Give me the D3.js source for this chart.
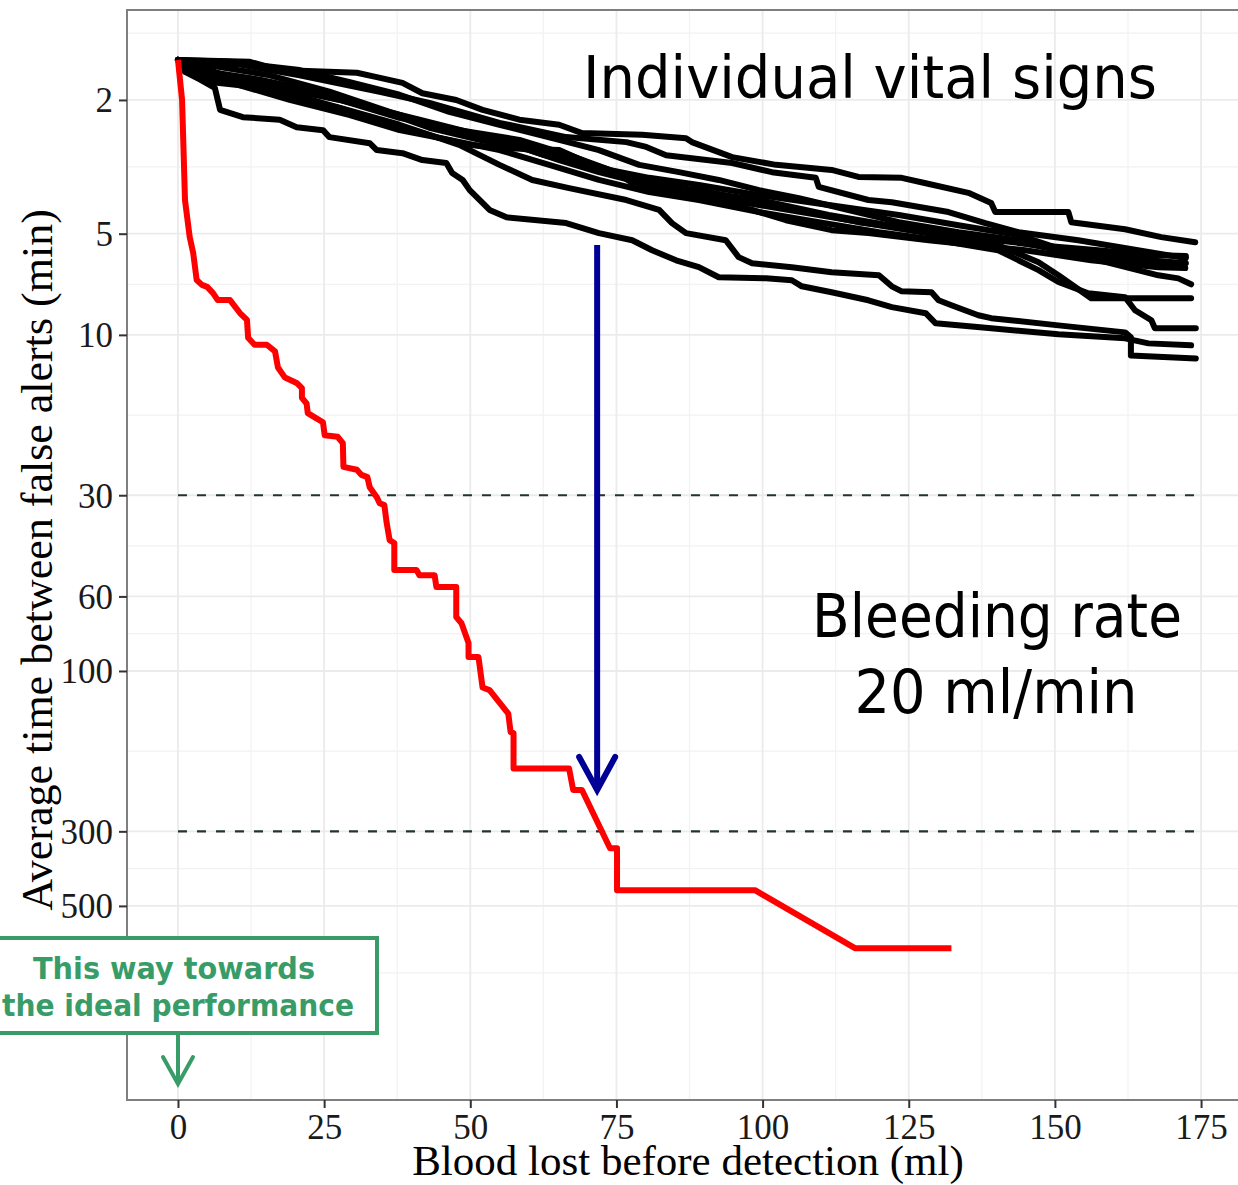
<!DOCTYPE html>
<html>
<head>
<meta charset="utf-8">
<script src="https://cdn.jsdelivr.net/npm/d3@7"></script>
<style>
  html, body { margin: 0; padding: 0; background: #fff; }
  svg { display: block; }
</style>
</head>
<body>
<svg id="chart" width="1238" height="1185"></svg>
<script>
(function () {
  'use strict'

  // axis breaks
  var xTicks = [0, 25, 50, 75, 100, 125, 150, 175]
  var yTicks = [2, 5, 10, 30, 60, 100, 300, 500]
  var thresholds = [30, 300]

  // [blood lost (ml), average time between false alerts (min)]
  var bleedingRate = [[0, 1.52], [0.7, 2.0], [1.2, 3.97], [2.0, 5.11], [2.6, 5.7], [3.2, 6.87], [4.1, 7.1],
    [5.0, 7.2], [6.0, 7.51], [6.8, 7.88], [8.9, 7.88], [10.6, 8.61], [11.8, 9.03], [12.0, 10.2], [13.1, 10.7],
    [15.2, 10.7], [16.6, 11.2], [17.1, 12.5], [18.3, 13.4], [20.3, 13.9], [21.2, 14.4], [21.2, 15.4],
    [22.0, 16.0], [22.2, 17.1], [23.4, 17.6], [24.8, 18.2], [25.1, 19.9], [27.3, 20.1], [28.2, 21.0],
    [28.3, 24.7], [30.6, 25.2], [31.4, 26.1], [32.4, 26.5], [32.8, 28.4], [34.0, 30.4], [34.5, 31.7],
    [35.3, 32.1], [35.7, 36.3], [36.2, 40.8], [37.0, 41.6], [37.0, 50.1], [40.8, 50.1], [41.3, 51.9],
    [43.9, 51.9], [44.2, 56.3], [47.6, 56.3], [47.6, 69.1], [48.5, 72.1], [49.7, 82.6], [49.7, 90.9],
    [51.4, 90.9], [52.1, 112], [53.3, 114], [56.5, 134], [56.9, 152], [57.4, 153], [57.4, 195], [66.9, 195],
    [67.6, 226], [69.1, 226], [73.9, 337], [75.1, 337], [75.1, 449], [98.7, 449], [115.8, 668], [132.3, 668]]

  var vital1 = [[0, 1.52], [12.3, 1.54], [17.4, 1.63], [30.6, 1.66], [34.0, 1.71], [38.4, 1.78], [41.8, 1.91],
    [47.6, 2.0], [52.1, 2.14], [58.4, 2.29], [65.2, 2.37], [69.1, 2.51], [79.4, 2.54], [86.9, 2.6], [87.9, 2.67],
    [94.8, 2.96], [102.3, 3.12], [111.8, 3.23], [116.4, 3.39], [123.8, 3.41], [127.9, 3.54], [135.2, 3.78],
    [139.1, 4.05], [139.8, 4.31], [152.3, 4.31], [152.8, 4.62], [162.0, 4.85], [168.2, 5.12], [174.0, 5.3]]
  var vital2 = [[0, 1.52], [10.6, 1.57], [20.8, 1.69], [34.5, 1.89], [43.0, 2.04], [55.0, 2.34], [66.4, 2.58],
    [76.7, 2.67], [80.1, 2.76], [83.5, 2.92], [94.8, 3.08], [101.6, 3.28], [109.1, 3.41], [109.6, 3.63],
    [118.1, 3.97], [122.1, 4.03], [131.8, 4.31], [138.1, 4.65], [143.8, 4.95], [154.0, 5.23], [164.2, 5.6],
    [172.4, 5.91]]
  var vital3 = [[0, 1.52], [0.9, 1.63], [5.5, 1.77], [13.5, 1.83], [21.3, 2.0], [27.1, 2.1], [32.8, 2.25],
    [38.4, 2.41], [44.2, 2.58], [49.9, 2.72], [55.0, 2.78], [65.2, 2.82], [69.8, 3.06], [74.9, 3.28],
    [77.7, 3.53], [83.5, 3.78], [92.0, 3.97], [98.2, 4.25], [104.0, 4.56], [111.8, 4.88], [118.1, 4.98],
    [128.4, 5.23], [144.9, 5.6], [156.2, 6.0], [167.7, 6.29], [172.3, 6.33]]
  var vital4 = [[0, 1.52], [8.9, 1.54], [20.8, 1.63], [29.4, 1.77], [37.9, 1.93], [46.4, 2.17], [55.0, 2.37],
    [65.2, 2.63], [72.0, 2.82], [78.9, 3.12], [85.7, 3.28], [92.5, 3.46], [99.4, 3.71], [106.2, 3.92],
    [114.7, 4.25], [123.3, 4.62], [133.5, 4.95], [143.8, 5.23], [150.6, 5.6], [157.4, 5.79], [166.0, 6.0],
    [172.4, 6.12]]
  var vital5 = [[0, 1.52], [2.9, 1.69], [12.3, 1.74], [24.2, 1.93], [34.5, 2.14], [43.0, 2.42], [51.6, 2.63],
    [60.1, 2.82], [65.2, 3.02], [72.0, 3.28], [80.6, 3.58], [89.1, 3.71], [97.6, 3.97], [106.2, 4.25],
    [116.4, 4.62], [126.7, 4.88], [136.9, 5.16], [147.2, 5.41], [157.4, 5.6], [166.0, 5.79], [172.4, 5.83]]
  var vital6 = [[0, 1.52], [2.0, 1.63], [10.6, 1.81], [19.1, 2.0], [29.4, 2.22], [37.9, 2.46], [46.4, 2.63],
    [55.0, 2.82], [63.5, 3.12], [72.0, 3.46], [80.6, 3.76], [89.1, 3.97], [99.4, 4.31], [109.6, 4.62],
    [119.9, 4.95], [130.1, 5.23], [140.3, 5.6], [147.2, 6.42], [150.6, 6.96], [155.7, 7.52], [162.0, 7.73],
    [163.7, 8.45], [166.5, 9.05], [167.1, 9.56], [174.1, 9.56]]
  var vital7 = [[0, 1.52], [5.5, 1.65], [14.0, 1.74], [22.5, 1.87], [31.1, 2.07], [41.3, 2.29], [51.6, 2.54],
    [60.1, 2.72], [68.6, 3.02], [75.5, 3.35], [82.3, 3.63], [89.1, 3.84], [99.4, 4.11], [109.6, 4.4],
    [119.9, 4.72], [130.1, 5.05], [140.3, 5.41], [147.2, 6.08], [150.6, 6.65], [156.2, 7.78], [173.3, 7.78]]
  var vital8 = [[0, 1.52], [8.0, 1.69], [17.4, 1.84], [27.7, 2.0], [37.9, 2.26], [48.1, 2.46], [58.4, 2.63],
    [66.9, 2.92], [73.8, 3.23], [80.6, 3.41], [89.1, 3.58], [99.4, 3.84], [111.3, 4.11], [123.3, 4.4],
    [133.5, 4.72], [143.8, 5.05], [154.0, 5.79], [160.8, 6.2], [167.7, 6.65], [171.1, 6.79], [173.3, 7.07]]
  var vital9 = [[0, 1.52], [1.2, 1.65], [3.8, 1.74], [6.3, 1.84], [7.2, 2.14], [11.1, 2.25], [17.4, 2.29],
    [20.3, 2.41], [24.8, 2.46], [25.9, 2.58], [32.8, 2.69], [34.0, 2.82], [38.4, 2.88], [41.8, 3.02],
    [45.9, 3.08], [46.9, 3.3], [48.7, 3.46], [49.9, 3.71], [52.1, 4.05], [53.3, 4.25], [56.2, 4.47],
    [66.4, 4.65], [72.0, 4.98], [77.7, 5.23], [81.1, 5.6], [85.2, 6.0], [89.1, 6.29], [92.5, 6.74],
    [100.6, 6.79], [105.0, 6.88], [106.7, 7.17], [111.8, 7.47], [118.1, 7.89], [122.1, 8.27], [127.9, 8.62],
    [129.6, 9.24], [139.1, 9.56], [150.6, 9.96], [162.0, 10.24], [166.0, 10.6], [173.3, 10.74]]
  var vital10 = [[0, 1.52], [3.8, 1.61], [14.0, 1.81], [25.9, 2.07], [37.9, 2.37], [48.1, 2.72], [55.0, 3.12],
    [60.6, 3.46], [66.9, 3.66], [76.7, 3.97], [82.3, 4.25], [84.5, 4.65], [86.9, 4.98], [93.7, 5.23],
    [95.9, 5.87], [98.2, 6.12], [105.0, 6.29], [111.8, 6.51], [119.9, 6.65], [122.1, 7.17], [123.8, 7.42],
    [128.9, 7.47], [130.1, 7.89], [132.3, 8.16], [136.9, 8.74], [139.1, 8.92], [150.6, 9.37], [162.0, 9.83],
    [163.0, 10.17], [163.0, 11.51], [174.1, 11.75]]
  var vital11 = [[0, 1.52], [4.6, 1.57], [15.7, 1.69], [25.9, 1.89], [36.2, 2.17], [46.4, 2.46], [55.0, 2.63],
    [62.7, 2.92], [72.0, 3.19], [80.6, 3.46], [89.1, 3.76], [99.4, 3.97], [111.3, 4.4], [121.6, 4.72],
    [131.8, 4.95], [142.0, 5.23], [152.3, 5.67], [162.5, 6.0], [171.9, 6.2]]

  var vitalSigns = [vital1, vital2, vital3, vital4, vital5, vital6, vital7, vital8, vital9, vital10, vital11]

  // [blood lost (ml), from (min), to (min)]
  var improvementArrow = [71.7, 5.4, 226]

  var width = 1238
  var height = 1185
  var panel = { left: 127, top: 10, right: 1249, bottom: 1100 }

  var svg = d3.select('#chart')

  var x = d3.scaleLinear()
        .domain([-8.72, 183.2])
        .range([panel.left, panel.right])

  var y = d3.scaleLog()
        .domain([1.08, 1890])
        .range([panel.top, panel.bottom])

  svg.append('rect')
        .attr('width', width)
        .attr('height', height)
        .attr('fill', '#ffffff')

  var clip = svg.append('clipPath').attr('id', 'panel-clip')
  clip.append('rect')
        .attr('x', panel.left)
        .attr('y', panel.top)
        .attr('width', panel.right - panel.left)
        .attr('height', panel.bottom - panel.top)

  // minor breaks, ggplot style (halfway between breaks on the transformed scale)
  var xMinor = []
  for (var i = 0; i < xTicks.length - 1; i++) {
    xMinor.push((xTicks[i] + xTicks[i + 1]) / 2)
  }
  var logTicks = yTicks.map(Math.log10)
  var step = logTicks[1] - logTicks[0]
  var ext = [logTicks[0] - step].concat(logTicks, [logTicks[logTicks.length - 1] + step])
  var yMinor = []
  for (var j = 0; j < ext.length - 1; j++) {
    yMinor.push(Math.pow(10, (ext[j] + ext[j + 1]) / 2))
  }

  var grid = svg.append('g').attr('clip-path', 'url(#panel-clip)')
  grid.selectAll('line.xminor')
        .data(xMinor)
        .enter().append('line')
        .attr('x1', x).attr('x2', x)
        .attr('y1', panel.top).attr('y2', panel.bottom)
        .attr('stroke', '#f2f2f2')
        .attr('stroke-width', 1.2)
  grid.selectAll('line.yminor')
        .data(yMinor)
        .enter().append('line')
        .attr('y1', y).attr('y2', y)
        .attr('x1', panel.left).attr('x2', panel.right)
        .attr('stroke', '#f2f2f2')
        .attr('stroke-width', 1.2)
  grid.selectAll('line.xmajor')
        .data(xTicks)
        .enter().append('line')
        .attr('x1', x).attr('x2', x)
        .attr('y1', panel.top).attr('y2', panel.bottom)
        .attr('stroke', '#ebebeb')
        .attr('stroke-width', 1.8)
  grid.selectAll('line.ymajor')
        .data(yTicks)
        .enter().append('line')
        .attr('y1', y).attr('y2', y)
        .attr('x1', panel.left).attr('x2', panel.right)
        .attr('stroke', '#ebebeb')
        .attr('stroke-width', 1.8)

  // threshold lines
  svg.selectAll('line.threshold')
        .data(thresholds)
        .enter().append('line')
        .attr('x1', x(0)).attr('x2', x(175))
        .attr('y1', y).attr('y2', y)
        .attr('stroke', '#223333')
        .attr('stroke-width', 2.2)
        .attr('stroke-dasharray', '9,10')

  var line = d3.line()
        .x(function (d) { return x(d[0]) })
        .y(function (d) { return y(d[1]) })

  var series = svg.append('g').attr('clip-path', 'url(#panel-clip)')
  series.selectAll('path.vital')
        .data(vitalSigns)
        .enter().append('path')
        .attr('d', line)
        .attr('fill', 'none')
        .attr('stroke', '#000000')
        .attr('stroke-width', 6)
        .attr('stroke-linejoin', 'round')
        .attr('stroke-linecap', 'round')

  series.append('path')
        .attr('d', line(bleedingRate))
        .attr('fill', 'none')
        .attr('stroke', '#ff0000')
        .attr('stroke-width', 6)
        .attr('stroke-linejoin', 'round')

  // panel border
  svg.append('rect')
        .attr('x', panel.left)
        .attr('y', panel.top)
        .attr('width', panel.right - panel.left)
        .attr('height', panel.bottom - panel.top)
        .attr('fill', 'none')
        .attr('stroke', '#7f7f7f')
        .attr('stroke-width', 2)

  // axes
  var xAxis = d3.axisBottom(x)
        .tickValues(xTicks)
        .tickSize(8)
        .tickPadding(6)
        .tickFormat(d3.format('d'))
  var gx = svg.append('g')
        .attr('transform', 'translate(0,' + panel.bottom + ')')
        .call(xAxis)
  gx.select('.domain').remove()
  gx.selectAll('.tick line').attr('stroke', '#333333').attr('stroke-width', 2)
  gx.selectAll('.tick text')
        .attr('font-family', 'Liberation Serif, Times New Roman, serif')
        .attr('font-size', 35)
        .attr('fill', '#1a1a1a')
        .attr('dy', null)
        .attr('y', 39)

  var yAxis = d3.axisLeft(y)
        .tickValues(yTicks)
        .tickSize(8)
        .tickPadding(6)
        .tickFormat(d3.format('d'))
  var gy = svg.append('g')
        .attr('transform', 'translate(' + panel.left + ',0)')
        .call(yAxis)
  gy.select('.domain').remove()
  gy.selectAll('.tick line').attr('stroke', '#333333').attr('stroke-width', 2)
  gy.selectAll('.tick text')
        .attr('font-family', 'Liberation Serif, Times New Roman, serif')
        .attr('font-size', 35)
        .attr('fill', '#1a1a1a')
        .attr('dy', '0.34em')
        .attr('x', -14)

  svg.append('text')
        .attr('x', 688)
        .attr('y', 1175)
        .attr('text-anchor', 'middle')
        .attr('font-family', 'Liberation Serif, Times New Roman, serif')
        .attr('font-size', 43)
        .attr('fill', '#000000')
        .text('Blood lost before detection (ml)')

  svg.append('text')
        .attr('transform', 'translate(52,560) rotate(-90)')
        .attr('text-anchor', 'middle')
        .attr('font-family', 'Liberation Serif, Times New Roman, serif')
        .attr('font-size', 44)
        .attr('fill', '#000000')
        .text('Average time between false alerts (min)')

  // improvement arrow
  var arrowColor = '#000096'
  var ax = x(improvementArrow[0])
  var ay1 = y(improvementArrow[1])
  var ay2 = y(improvementArrow[2])
  svg.append('line')
        .attr('x1', ax).attr('x2', ax)
        .attr('y1', ay1).attr('y2', ay2 - 3)
        .attr('stroke', arrowColor)
        .attr('stroke-width', 6)
  svg.append('path')
        .attr('d', 'M' + (ax - 18) + ',' + (ay2 - 33) + 'L' + ax + ',' + ay2 + 'L' + (ax + 18) + ',' + (ay2 - 33))
        .attr('fill', 'none')
        .attr('stroke', arrowColor)
        .attr('stroke-width', 6)
        .attr('stroke-linecap', 'round')
        .attr('stroke-linejoin', 'miter')

  // labels
  var label = 'DejaVu Sans, Verdana, sans-serif'
  svg.append('text')
        .attr('x', 583)
        .attr('y', 98)
        .attr('font-family', label)
        .attr('font-size', 59)
        .attr('textLength', 574)
        .attr('lengthAdjust', 'spacingAndGlyphs')
        .text('Individual vital signs')

  svg.append('text')
        .attr('x', 997)
        .attr('y', 637)
        .attr('text-anchor', 'middle')
        .attr('font-family', label)
        .attr('font-size', 60)
        .attr('textLength', 370)
        .attr('lengthAdjust', 'spacingAndGlyphs')
        .text('Bleeding rate')

  svg.append('text')
        .attr('x', 996)
        .attr('y', 713)
        .attr('text-anchor', 'middle')
        .attr('font-family', label)
        .attr('font-size', 60)
        .attr('textLength', 283)
        .attr('lengthAdjust', 'spacingAndGlyphs')
        .text('20 ml/min')

  // ideal performance note
  var green = '#389c68'
  svg.append('rect')
        .attr('x', -4)
        .attr('y', 938)
        .attr('width', 381)
        .attr('height', 95)
        .attr('fill', '#ffffff')
        .attr('stroke', green)
        .attr('stroke-width', 4)

  svg.append('text')
        .attr('x', 174)
        .attr('y', 979)
        .attr('text-anchor', 'middle')
        .attr('font-family', label)
        .attr('font-weight', 'bold')
        .attr('font-size', 30)
        .attr('fill', green)
        .attr('textLength', 282)
        .attr('lengthAdjust', 'spacingAndGlyphs')
        .text('This way towards')

  svg.append('text')
        .attr('x', 178)
        .attr('y', 1016)
        .attr('text-anchor', 'middle')
        .attr('font-family', label)
        .attr('font-weight', 'bold')
        .attr('font-size', 30)
        .attr('fill', green)
        .attr('textLength', 352)
        .attr('lengthAdjust', 'spacingAndGlyphs')
        .text('the ideal performance')

  var gx0 = x(0)
  svg.append('line')
        .attr('x1', gx0).attr('x2', gx0)
        .attr('y1', 1035).attr('y2', 1082)
        .attr('stroke', green)
        .attr('stroke-width', 4)
  svg.append('path')
        .attr('d', 'M' + (gx0 - 15) + ',' + 1057 + 'L' + gx0 + ',' + 1084 + 'L' + (gx0 + 15) + ',' + 1057)
        .attr('fill', 'none')
        .attr('stroke', green)
        .attr('stroke-width', 4)
        .attr('stroke-linecap', 'round')
})()
</script>
</body>
</html>
